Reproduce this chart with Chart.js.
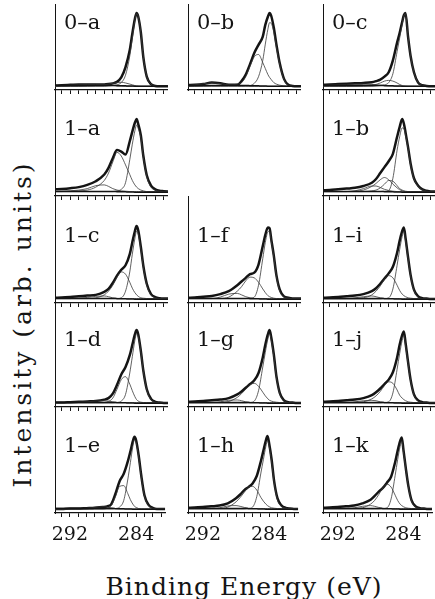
<!DOCTYPE html>
<html>
<head>
<meta charset="utf-8">
<script src="https://cdn.jsdelivr.net/npm/chart.js@4.4.0/dist/chart.umd.min.js"></script>
<style>
  body { margin: 0; background: #fff; width: 435px; height: 599px; position: relative; overflow: hidden; }
  canvas { position: absolute; }
  .title { position: absolute; font-family: "DejaVu Serif", serif; font-size: 25px; line-height: 25px; color: #141414; white-space: nowrap; }
  #ytitle { left: 22px; top: 324px; transform: translate(-50%, -50%) rotate(-90deg); letter-spacing: 3px; }
  #xtitle { left: 244px; top: 574px; transform: translateX(-50%); letter-spacing: 1px; }
</style>
</head>
<body>
<div class="title" id="ytitle">Intensity (arb. units)</div>
<div class="title" id="xtitle">Binding Energy (eV)</div>
<script>
// binding energy grid (eV), high -> low
const energy = [293.8, 293, 292, 291, 290, 289, 288, 287.5, 287, 286.5, 286, 285.5, 285, 284.7, 284.4, 284.2, 284, 283.7, 283.4, 283, 282.5, 282, 281.5, 281, 280.5]
const tickLabels = [292, 284]
const background = [2, 2, 2, 2, 2, 2, 2, 2, 2, 1.9, 1.8, 1.6, 1.4, 1.3, 1.2, 1.1, 1, 1, 1, 1, 1, 1, 1, 1, 1]

// 0-a
const total0a = [2, 2.5, 3, 3.5, 3.5, 3.5, 3.5, 4, 5, 7, 13, 27, 50, 72, 92, 100, 95, 74, 40, 14, 4, 1.5, 1, 1, 1]
const main0a = [1, 1, 1, 1, 1, 1, 1, 1.5, 2, 3, 6, 16, 42, 66, 90, 99, 95, 74, 40, 14, 4, 1.5, 1, 1, 1]
const side0a = [1, 1, 1, 1, 1.5, 2, 3, 4, 5, 6, 6.5, 5.5, 4, 3, 2, 1.5, 1.2, 1, 1, 1, 1, 1, 1, 1, 1]
const broad0a = [1.5, 2, 2.5, 3, 3.5, 3.5, 3, 2.5, 2, 1.6, 1.3, 1, 1, 1, 1, 1, 1, 1, 1, 1, 1, 1, 1, 1, 1]
// 0-b
const total0b = [2.7, 3, 4, 6, 5, 3, 3, 8, 17, 31, 46, 57, 68, 84, 95, 100, 96, 80, 58, 32, 11, 3, 1.5, 1, 1]
const main0b = [1, 1, 1, 1, 1, 1, 1, 1, 1.5, 2, 5, 14, 36, 58, 78, 87, 86, 74, 54, 30, 10, 2.5, 1.5, 1, 1]
const side0b = [1, 1, 1.5, 2, 2, 2.5, 4, 6, 14, 28, 41, 44, 33, 25, 17, 13, 10, 6, 4, 2.5, 1.5, 1, 1, 1, 1]
const broad0b = [2, 3, 4.5, 5.5, 4.5, 3, 2, 1.5, 1.2, 1, 1, 1, 1, 1, 1, 1, 1, 1, 1, 1, 1, 1, 1, 1, 1]
// 0-c
const total0c = [3, 3.5, 4, 4.5, 5, 5.5, 6.5, 8, 10, 14, 20, 36, 60, 73, 88, 97, 100, 68, 42, 20, 6, 2.5, 1.5, 1, 1]
const main0c = [1, 1, 1, 1, 1, 1, 1, 1.5, 2, 3, 6, 18, 48, 66, 85, 96, 99, 68, 42, 20, 6, 2.5, 1.5, 1, 1]
const side0c = [1, 1, 1, 1, 1.2, 1.5, 2.5, 3.5, 5.5, 8, 9, 8, 5.5, 3.5, 2, 1.5, 1.2, 1, 1, 1, 1, 1, 1, 1, 1]
const broad0c = [2, 2.5, 3, 3.5, 4, 4, 3.5, 3, 2.5, 2, 1.5, 1.2, 1, 1, 1, 1, 1, 1, 1, 1, 1, 1, 1, 1, 1]
// 1-a
const total1a = [5, 5.5, 6.5, 8, 11, 16, 25, 34, 47, 58, 56, 52, 70, 83, 95, 100, 93, 78, 50, 24, 10, 5, 3, 2.5, 2]
const main1a = [2, 2, 2, 2, 2, 2, 2, 2, 2, 3, 5, 14, 45, 66, 84, 92, 87, 75, 48, 22, 8, 4, 2.5, 2, 2]
const side1a = [2, 2, 2.5, 3, 4, 8, 17, 27, 42, 55, 50, 38, 25, 17, 11, 8, 6, 4, 3, 2, 2, 2, 2, 2, 2]
const minor1a = [2, 2.5, 3, 4, 6, 10, 11, 9, 6, 4, 3, 2.5, 2, 2, 2, 2, 2, 2, 2, 2, 2, 2, 2, 2, 2]
// 1-b
const total1b = [3.7, 4, 5, 6, 7, 9.5, 14, 19, 27, 35, 43, 53, 76, 89, 100, 94, 82, 62, 40, 20, 10, 5, 3, 2, 2]
const main1b = [2, 2, 2, 2, 2, 2, 2, 2, 2, 2.5, 3.5, 20, 58, 76, 88, 87, 78, 60, 38, 19, 9, 4.5, 2.5, 2, 2]
const side1b = [2, 2, 2, 2, 2.5, 4, 9, 13, 18, 21, 18, 12, 7, 4.5, 3, 2.5, 2, 2, 2, 2, 2, 2, 2, 2, 2]
const mid1b = [2, 2, 2, 2, 2, 2, 3, 4, 7, 12, 17, 16, 10, 6, 4, 3, 2.5, 2, 2, 2, 2, 2, 2, 2, 2]
const minor1b = [2, 2, 2, 2, 3, 6, 9.5, 9.5, 7.5, 5, 3.5, 2.5, 2, 2, 2, 2, 2, 2, 2, 2, 2, 2, 2, 2, 2]
// 1-c
const total1c = [3, 3.5, 4, 5, 6, 7, 11, 15, 23, 33, 41, 47, 62, 78, 93, 100, 94, 72, 46, 22, 8, 4, 2.5, 2, 2]
const main1c = [2, 2, 2, 2, 2, 2, 2, 2, 2, 2, 3, 12, 38, 62, 83, 93, 89, 69, 44, 20, 7, 3, 2, 2, 2]
const side1c = [2, 2, 2, 2, 2, 3, 7, 12, 20, 31, 38, 35, 24, 16, 10, 7, 5, 3, 2.5, 2, 2, 2, 2, 2, 2]
const minor1c = [2, 2, 2, 2.5, 3.5, 5, 5.5, 4.5, 3, 2.3, 2, 2, 2, 2, 2, 2, 2, 2, 2, 2, 2, 2, 2, 2, 2]
// 1-d
const total1d = [2, 2, 2.5, 3, 3.5, 4, 6, 8, 14, 26, 40, 50, 66, 80, 94, 100, 94, 72, 45, 20, 7, 3, 2, 1.5, 1.5]
const main1d = [1.5, 1.5, 1.5, 1.5, 1.5, 1.5, 1.5, 1.5, 1.5, 2, 4, 13, 42, 64, 86, 95, 91, 71, 44, 19, 6, 2.5, 1.5, 1.5, 1.5]
const side1d = [2, 2, 2, 2, 2, 2, 2, 3.5, 8, 20, 33, 37, 27, 18, 10, 6, 4, 2.5, 2, 2, 2, 2, 2, 2, 2]
const minor1d = [2, 2, 2, 2.5, 3, 4, 4.5, 4, 3, 2.2, 2, 2, 2, 2, 2, 2, 2, 2, 2, 2, 2, 2, 2, 2, 2]
// 1-e
const total1e = [1.5, 1.5, 2, 2, 2.5, 3, 4, 5, 8, 22, 39, 49, 66, 79, 93, 99, 94, 74, 48, 20, 7, 3, 1.5, 1.5, 1.5]
const main1e = [1.5, 1.5, 1.5, 1.5, 1.5, 1.5, 1.5, 1.5, 1.5, 2, 4, 13, 42, 64, 86, 95, 91, 72, 46, 19, 6, 2.5, 1.5, 1.5, 1.5]
const side1e = [1.5, 1.5, 1.5, 1.5, 1.5, 1.5, 1.5, 2.5, 6, 18, 32, 33, 22, 14, 8, 5, 3.5, 2, 1.5, 1.5, 1.5, 1.5, 1.5, 1.5, 1.5]
const minor1e = [1.5, 1.5, 1.5, 2, 2.5, 3.5, 4.5, 4, 3, 2, 1.5, 1.5, 1.5, 1.5, 1.5, 1.5, 1.5, 1.5, 1.5, 1.5, 1.5, 1.5, 1.5, 1.5, 1.5]
// 1-f
const total1f = [3, 3.5, 4.5, 5.5, 8, 12, 20, 25, 30, 35, 37, 48, 73, 88, 98, 97, 82, 60, 34, 14, 5, 3, 2, 2, 2]
const main1f = [2, 2, 2, 2, 2, 2, 2, 2, 2, 2.5, 4, 20, 56, 78, 92, 93, 79, 58, 32, 12, 4, 2.5, 2, 2, 2]
const side1f = [2, 2, 2, 2, 2, 4, 12, 18, 26, 31, 30, 24, 15, 10, 6, 4.5, 3.5, 2.5, 2, 2, 2, 2, 2, 2, 2]
const minor1f = [2, 2, 2, 2, 4, 8, 9, 7, 4.5, 3, 2.2, 2, 2, 2, 2, 2, 2, 2, 2, 2, 2, 2, 2, 2, 2]
// 1-g
const total1g = [3, 3.5, 4, 5, 6, 8, 13, 17, 22, 27, 32, 42, 63, 80, 94, 100, 90, 67, 38, 15, 5, 2.5, 2, 1.5, 1.5]
const main1g = [1.5, 1.5, 1.5, 1.5, 1.5, 1.5, 1.5, 1.5, 1.5, 2, 4, 18, 50, 70, 88, 95, 86, 64, 36, 14, 4.5, 2, 1.5, 1.5, 1.5]
const side1g = [2, 2, 2, 2, 2, 3.5, 9, 14, 20, 26, 28, 24, 16, 11, 7, 5, 4, 3, 2.5, 2, 2, 2, 2, 2, 2]
const minor1g = [2, 2, 2, 2, 3, 5, 5.5, 4.5, 3, 2.3, 2, 2, 2, 2, 2, 2, 2, 2, 2, 2, 2, 2, 2, 2, 2]
// 1-h
const total1h = [3, 3.5, 4, 5, 6, 9, 16, 21, 27, 31, 36, 46, 66, 80, 94, 100, 90, 68, 39, 16, 6, 3, 2, 1.5, 1.5]
const main1h = [1.5, 1.5, 1.5, 1.5, 1.5, 1.5, 1.5, 1.5, 1.5, 2, 4, 18, 50, 68, 86, 94, 86, 65, 37, 14, 5, 2.5, 2, 1.5, 1.5]
const side1h = [2, 2, 2, 2, 2, 4, 11, 17, 24, 31, 32, 27, 17, 12, 8, 6, 4.5, 3, 2.5, 2, 2, 2, 2, 2, 2]
const minor1h = [2, 2, 2, 2, 3, 5.5, 6, 5, 3.5, 2.5, 2, 2, 2, 2, 2, 2, 2, 2, 2, 2, 2, 2, 2, 2, 2]
// 1-i
const total1i = [3, 3.5, 4, 5, 6, 8, 12, 16, 22, 29, 36, 45, 64, 80, 93, 98, 84, 58, 34, 14, 5, 2.5, 2, 1.5, 1.5]
const main1i = [1.5, 1.5, 1.5, 1.5, 1.5, 1.5, 1.5, 1.5, 1.5, 2, 3, 15, 47, 68, 86, 93, 80, 56, 33, 13, 4, 2, 1.5, 1.5, 1.5]
const side1i = [2, 2, 2, 2, 2, 3, 7, 12, 19, 28, 33, 30, 20, 13, 8, 6, 4.5, 3, 2.5, 2, 2, 2, 2, 2, 2]
const minor1i = [2, 2, 2, 2, 3, 4.5, 5.5, 4.5, 3, 2.3, 2, 2, 2, 2, 2, 2, 2, 2, 2, 2, 2, 2, 2, 2, 2]
// 1-j
const total1j = [3, 3.5, 4, 5, 6, 8, 12, 16, 21, 27, 33, 43, 63, 80, 93, 98, 83, 57, 33, 13, 5, 2.5, 2, 1.5, 1.5]
const main1j = [1.5, 1.5, 1.5, 1.5, 1.5, 1.5, 1.5, 1.5, 1.5, 2, 3, 15, 47, 68, 86, 93, 79, 55, 32, 12, 4, 2, 1.5, 1.5, 1.5]
const side1j = [2, 2, 2, 2, 2, 3, 7, 11, 17, 25, 30, 28, 19, 12, 8, 6, 4.5, 3, 2.5, 2, 2, 2, 2, 2, 2]
const minor1j = [2, 2, 2, 2, 3, 4.5, 5, 4.5, 3, 2.3, 2, 2, 2, 2, 2, 2, 2, 2, 2, 2, 2, 2, 2, 2, 2]
// 1-k
const total1k = [3, 3.5, 4, 5, 6, 9, 14, 19, 25, 30, 37, 45, 65, 80, 93, 98, 82, 56, 33, 13, 5, 2.5, 2, 1.5, 1.5]
const main1k = [1.5, 1.5, 1.5, 1.5, 1.5, 1.5, 1.5, 1.5, 1.5, 2, 3, 15, 47, 68, 86, 93, 79, 55, 32, 12, 4, 2, 1.5, 1.5, 1.5]
const side1k = [2, 2, 2, 2, 2, 3, 8, 13, 21, 30, 35, 31, 20, 13, 8, 6, 4.5, 3, 2.5, 2, 2, 2, 2, 2, 2]
const minor1k = [2, 2, 2, 2, 3, 5, 6, 5, 3.5, 2.5, 2, 2, 2, 2, 2, 2, 2, 2, 2, 2, 2, 2, 2, 2, 2]

const panels = [
  { label: '0–a', row: 0, col: 0, total: total0a, parts: [main0a, side0a, broad0a] },
  { label: '0–b', row: 0, col: 1, total: total0b, parts: [main0b, side0b, broad0b] },
  { label: '0–c', row: 0, col: 2, total: total0c, parts: [main0c, side0c, broad0c] },
  { label: '1–a', row: 1, col: 0, total: total1a, parts: [main1a, side1a, minor1a] },
  { label: '1–b', row: 1, col: 2, total: total1b, parts: [main1b, side1b, mid1b, minor1b] },
  { label: '1–c', row: 2, col: 0, total: total1c, parts: [main1c, side1c, minor1c] },
  { label: '1–f', row: 2, col: 1, total: total1f, parts: [main1f, side1f, minor1f] },
  { label: '1–i', row: 2, col: 2, total: total1i, parts: [main1i, side1i, minor1i] },
  { label: '1–d', row: 3, col: 0, total: total1d, parts: [main1d, side1d, minor1d] },
  { label: '1–g', row: 3, col: 1, total: total1g, parts: [main1g, side1g, minor1g] },
  { label: '1–j', row: 3, col: 2, total: total1j, parts: [main1j, side1j, minor1j] },
  { label: '1–e', row: 4, col: 0, total: total1e, parts: [main1e, side1e, minor1e] },
  { label: '1–h', row: 4, col: 1, total: total1h, parts: [main1h, side1h, minor1h] },
  { label: '1–k', row: 4, col: 2, total: total1k, parts: [main1k, side1k, minor1k] },
]

// panel grid
const colLeft = [55, 188, 323]
const colWidth = [113, 113, 112]
const rowAxis = [90, 196, 303, 407, 513]
const firstTop = 4
const padLeft = 6
const Y_MIN = -4
const PX_PER_UNIT = 0.74
const E_MIN = 280.5
const E_MAX = 293.8
const ink = '#141414'
const serif = '"DejaVu Serif", serif'

const panelLabel = {
  id: 'panelLabel',
  afterDraw(chart, args, opts) {
    const { ctx, chartArea } = chart
    ctx.save()
    ctx.font = '21px ' + serif
    ctx.fillStyle = ink
    ctx.textBaseline = 'alphabetic'
    ctx.fillText(opts.text, chartArea.left + 9, chartArea.bottom - 61)
    ctx.restore()
  }
}

function toPoints(arr) {
  return energy.map((e, i) => ({ x: e, y: arr[i] }))
}

panels.forEach(p => {
  const top = p.row === 0 ? firstTop : rowAxis[p.row - 1]
  const h = rowAxis[p.row] - top
  const isBottom = p.row === 4
  const axisH = isBottom ? 38 : 5

  const canvas = document.createElement('canvas')
  canvas.width = colWidth[p.col] + padLeft
  canvas.height = h + axisH
  canvas.style.left = (colLeft[p.col] - padLeft) + 'px'
  canvas.style.top = top + 'px'
  document.body.appendChild(canvas)

  const datasets = [
    { data: toPoints(background), borderColor: ink, borderWidth: 1.5 }
  ]
  p.parts.forEach(part => {
    datasets.push({ data: toPoints(part), borderColor: '#3a3a3a', borderWidth: 0.8 })
  })
  datasets.push({ data: toPoints(p.total), borderColor: ink, borderWidth: 2.5 })

  new Chart(canvas.getContext('2d'), {
    type: 'line',
    data: { datasets: datasets },
    plugins: [panelLabel],
    options: {
      responsive: false,
      animation: false,
      events: [],
      layout: { padding: { left: padLeft, right: 0, top: 0, bottom: 0 } },
      elements: {
        point: { radius: 0 },
        line: { cubicInterpolationMode: 'monotone', fill: false }
      },
      plugins: {
        legend: { display: false },
        tooltip: { enabled: false },
        panelLabel: { text: p.label }
      },
      scales: {
        x: {
          type: 'linear',
          reverse: true,
          min: E_MIN,
          max: E_MAX,
          grid: { display: true, drawOnChartArea: false, drawTicks: true, tickLength: 4, color: ink, lineWidth: 1 },
          border: { display: true, color: ink, width: 1.3 },
          ticks: {
            display: isBottom,
            stepSize: 1,
            includeBounds: false,
            autoSkip: false,
            maxRotation: 0,
            padding: 7,
            color: ink,
            font: { family: serif, size: 19 },
            callback: v => tickLabels.includes(v) ? String(v) : ''
          },
          afterFit: s => { s.height = axisH }
        },
        y: {
          min: Y_MIN,
          max: Y_MIN + h / PX_PER_UNIT,
          grid: { display: false, drawTicks: false },
          ticks: { display: false },
          border: { display: true, color: ink, width: 1 },
          afterFit: s => { s.width = 0 }
        }
      }
    }
  })
})
</script>
</body>
</html>
